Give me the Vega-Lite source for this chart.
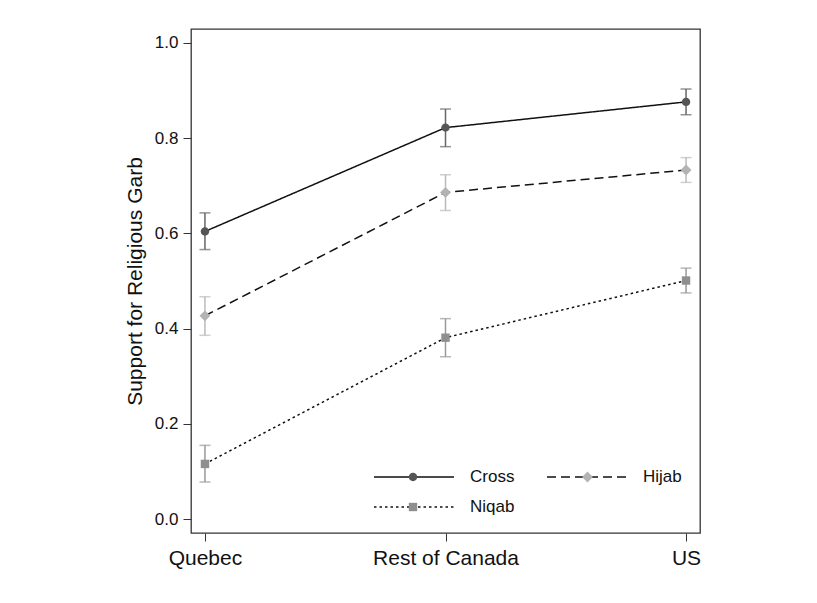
{
  "$schema": "https://vega.github.io/schema/vega-lite/v6.json",
  "autosize": {"type": "none"},
  "padding": {"left": 191, "top": 29, "right": 117, "bottom": 70},
  "width": 509,
  "height": 504,
  "background": "white",
  "config": {
    "font": "Liberation Sans",
    "view": {"stroke": "#333", "strokeWidth": 1.3},
    "axis": {"labelFont": "Liberation Sans", "titleFont": "Liberation Sans", "labelColor": "#111", "titleColor": "#111", "tickColor": "#333", "tickWidth": 1, "domain": false, "grid": false},
    "legend": {"labelFont": "Liberation Sans"}
  },
  "data": {
    "values": [
      {"religion": "Cross", "region": "Quebec", "mean": 0.604, "lo": 0.566, "hi": 0.643},
      {"religion": "Cross", "region": "Rest of Canada", "mean": 0.822, "lo": 0.782, "hi": 0.861},
      {"religion": "Cross", "region": "US", "mean": 0.876, "lo": 0.849, "hi": 0.903},
      {"religion": "Hijab", "region": "Quebec", "mean": 0.427, "lo": 0.386, "hi": 0.467},
      {"religion": "Hijab", "region": "Rest of Canada", "mean": 0.686, "lo": 0.648, "hi": 0.723},
      {"religion": "Hijab", "region": "US", "mean": 0.733, "lo": 0.707, "hi": 0.759},
      {"religion": "Niqab", "region": "Quebec", "mean": 0.116, "lo": 0.078, "hi": 0.155},
      {"religion": "Niqab", "region": "Rest of Canada", "mean": 0.381, "lo": 0.341, "hi": 0.421},
      {"religion": "Niqab", "region": "US", "mean": 0.501, "lo": 0.475, "hi": 0.527}
    ]
  },
  "encoding": {
    "x": {
      "field": "region", "type": "nominal",
      "scale": {"type": "point", "domain": ["Quebec", "Rest of Canada", "US"], "padding": 0.058},
      "axis": {"title": null, "labelFontSize": 21, "tickSize": 8, "labelPadding": 6, "labelAngle": 0}
    }
  },
  "layer": [
    {
      "mark": {"type": "errorbar", "ticks": true, "size": 11, "thickness": 1.5},
      "encoding": {
        "y": {"field": "lo", "type": "quantitative", "scale": {"domain": [-0.029, 1.029], "nice": false, "zero": false},
          "axis": {"title": "Support for Religious Garb", "values": [0, 0.2, 0.4, 0.6, 0.8, 1], "format": ".1f", "labelFontSize": 17, "tickSize": 8, "labelPadding": 5, "titleFontSize": 21, "titleFontWeight": "normal", "titleX": -50, "titleY": 252, "titleAngle": -90, "titleAlign": "center", "titleBaseline": "alphabetic"}},
        "y2": {"field": "hi"},
        "color": {"field": "religion", "type": "nominal", "scale": {"domain": ["Niqab", "Hijab", "Cross"], "range": ["#999999", "#bbbbbb", "#666666"]}, "legend": null}
      }
    },
    {
      "mark": {"type": "line", "color": "#111", "strokeWidth": 1.5},
      "encoding": {
        "y": {"field": "mean", "type": "quantitative"},
        "strokeDash": {"field": "religion", "type": "nominal",
          "scale": {"domain": ["Cross", "Hijab", "Niqab"], "range": [[1, 0], [9, 5], [2.5, 3]]},
          "legend": {"orient": "none", "direction": "horizontal", "legendX": 182, "legendY": 438, "columns": 2, "symbolType": "stroke", "symbolSize": 6400, "symbolStrokeWidth": 1.5, "symbolStrokeColor": "#111", "clipHeight": 20, "rowPadding": 10, "columnPadding": 31, "labelOffset": 15, "labelFontSize": 17, "labelColor": "#111", "title": null, "padding": 0, "zindex": 0}}
      }
    },
    {
      "mark": {"type": "point", "filled": true, "size": 6400, "opacity": 1, "strokeWidth": 0},
      "encoding": {
        "y": {"field": "mean", "type": "quantitative"},
        "fill": {"field": "religion", "type": "nominal",
          "scale": {"range": ["#555555", "#b3b3b3", "#8f8f8f"]},
          "legend": {"orient": "none", "direction": "horizontal", "legendX": 182, "legendY": 438, "columns": 2, "symbolSize": 6400, "symbolStrokeWidth": 0, "symbolOpacity": 1, "clipHeight": 20, "rowPadding": 10, "columnPadding": 79.5, "labelOffset": 15, "labelFontSize": 17, "title": null, "padding": 0, "zindex": 1,
            "encode": {"labels": {"update": {"text": {"value": ""}}}}}},
        "shape": {"field": "religion", "type": "nominal",
          "scale": {"range": ["M-0.105,0A0.105,0.105,0,1,1,0.105,0A0.105,0.105,0,1,1,-0.105,0Z", "M0,-0.135L0.135,0L0,0.135L-0.135,0Z", "M-0.105,-0.105H0.105V0.105H-0.105Z"]},
          "legend": {"orient": "none", "direction": "horizontal", "legendX": 182, "legendY": 438, "columns": 2, "symbolSize": 6400, "symbolStrokeWidth": 0, "symbolOpacity": 1, "clipHeight": 20, "rowPadding": 10, "columnPadding": 79.5, "labelOffset": 15, "labelFontSize": 17, "title": null, "padding": 0, "zindex": 1,
            "encode": {"labels": {"update": {"text": {"value": ""}}}}}}
      }
    }
  ]
}
